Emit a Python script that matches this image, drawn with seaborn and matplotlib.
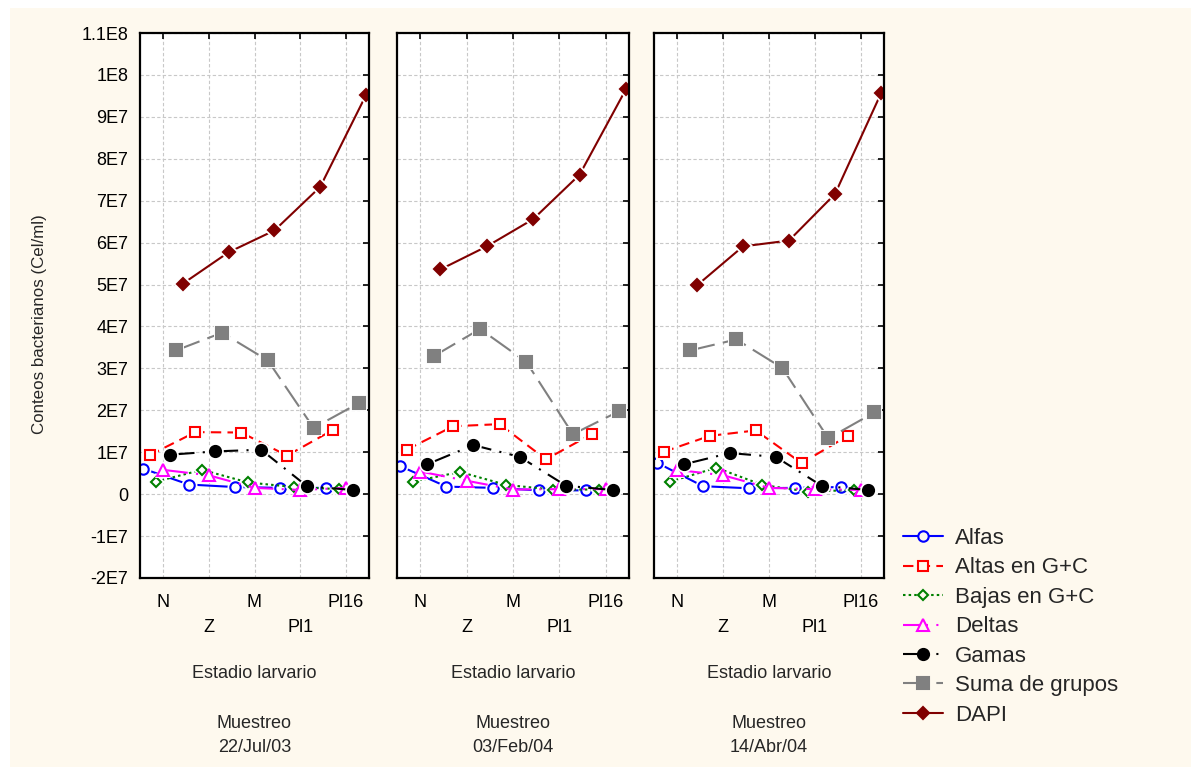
import numpy as np
import pandas as pd
import matplotlib
matplotlib.use("Agg")
import matplotlib.pyplot as plt
import seaborn as sns
from matplotlib.patches import Rectangle
from matplotlib.lines import Line2D

# ---- data -------------------------------------------------------------
estadios = ["N", "Z", "M", "Pl1", "Pl16"]
muestreos = ["22/Jul/03", "03/Feb/04", "14/Abr/04"]
grupos = ["Alfas", "Altas en G+C", "Bajas en G+C", "Deltas", "Gamas",
          "Suma de grupos", "DAPI"]

# counts (cells/ml), one row per sampling date, columns follow `estadios`
alfas = [[6.1e6, 2.3e6, 1.7e6, 1.5e6, 1.5e6],
         [6.7e6, 1.8e6, 1.5e6, 0.9e6, 0.9e6],
         [7.5e6, 1.9e6, 1.4e6, 1.5e6, 1.7e6]]
altas_gc = [[0.93e7, 1.48e7, 1.47e7, 0.92e7, 1.53e7],
            [1.06e7, 1.62e7, 1.67e7, 0.83e7, 1.44e7],
            [1.01e7, 1.39e7, 1.52e7, 0.74e7, 1.39e7]]
bajas_gc = [[3.0e6, 5.8e6, 2.8e6, 1.7e6, 1.2e6],
            [3.0e6, 5.3e6, 2.2e6, 1.1e6, 1.1e6],
            [3.0e6, 6.3e6, 2.2e6, 0.6e6, 1.0e6]]
deltas = [[5.8e6, 4.5e6, 1.5e6, 1.0e6, 1.5e6],
          [5.4e6, 3.2e6, 1.1e6, 1.2e6, 1.2e6],
          [5.8e6, 4.5e6, 1.5e6, 1.2e6, 1.0e6]]
gamas = [[0.94e7, 1.02e7, 1.06e7, 0.19e7, 0.10e7],
         [0.71e7, 1.17e7, 0.89e7, 0.20e7, 0.10e7],
         [0.71e7, 0.98e7, 0.89e7, 0.20e7, 0.10e7]]
suma_grupos = [[3.43e7, 3.85e7, 3.19e7, 1.58e7, 2.18e7],
               [3.29e7, 3.94e7, 3.15e7, 1.43e7, 1.98e7],
               [3.43e7, 3.69e7, 3.01e7, 1.33e7, 1.95e7]]
dapi = [[5.02e7, 5.77e7, 6.29e7, 7.33e7, 9.52e7],
        [5.36e7, 5.91e7, 6.56e7, 7.62e7, 9.66e7],
        [4.98e7, 5.91e7, 6.05e7, 7.16e7, 9.56e7]]

y_ticks = [-2e7, -1e7, 0, 1e7, 2e7, 3e7, 4e7, 5e7, 6e7, 7e7, 8e7, 9e7, 1e8, 1.1e8]
y_ticklabels = ["-2E7", "-1E7", "0", "1E7", "2E7", "3E7", "4E7", "5E7",
                "6E7", "7E7", "8E7", "9E7", "1E8", "1.1E8"]

series = dict(zip(grupos, [alfas, altas_gc, bajas_gc, deltas, gamas,
                           suma_grupos, dapi]))

rows = []
for g, table in series.items():
    for m, vals in zip(muestreos, table):
        for i, (e, v) in enumerate(zip(estadios, vals)):
            rows.append(dict(grupo=g, muestreo=m, estadio=e, idx=i, valor=v))
df = pd.DataFrame(rows)

# ---- styles -----------------------------------------------------------
BG = "#FEF9EE"
estilos = {
    "Alfas":          dict(color="#0000FF", marker="o", hollow=True,  ms=7.5, ls="-"),
    "Altas en G+C":   dict(color="#FF0000", marker="s", hollow=True,  ms=7.5, ls=(0, (5, 3))),
    "Bajas en G+C":   dict(color="#008000", marker="D", hollow=True,  ms=5.5, ls=(0, (1.2, 1.5))),
    "Deltas":         dict(color="#FF00FF", marker="^", hollow=True,  ms=8,   ls=(0, (12, 4, 1, 4))),
    "Gamas":          dict(color="#000000", marker="o", hollow=False, ms=8,   ls=(0, (12, 4, 1, 4))),
    "Suma de grupos": dict(color="#808080", marker="s", hollow=False, ms=8,   ls=(0, (12, 4))),
    "DAPI":           dict(color="#800000", marker="D", hollow=False, ms=6,   ls="-"),
}
offset = 0.145  # horizontal shift between groups inside each stage

sns.set_style("white")
plt.rcParams["font.family"] = ["Liberation Sans", "DejaVu Sans"]

W, H = 1191, 767
fig = plt.figure(figsize=(W / 100, H / 100), dpi=100, facecolor="white")
fig.patches.append(Rectangle((10 / W, 0), 1 - 10 / W, 1 - 8 / H,
                             transform=fig.transFigure, facecolor=BG,
                             edgecolor="none", zorder=-10))

panels_px = [(140, 369), (397, 629), (654, 884)]
top_px, bot_px = 33, 578
axes = []
for (l, r) in panels_px:
    ax = fig.add_axes([l / W, 1 - bot_px / H, (r - l) / W, (bot_px - top_px) / H])
    ax.set_facecolor("white")
    axes.append(ax)

TXT = 13
for k, (ax, m) in enumerate(zip(axes, muestreos)):
    sub_m = df[df.muestreo == m]
    for j, g in enumerate(grupos):
        sub = sub_m[sub_m.grupo == g].copy()
        sub["pos"] = sub["idx"] + (j - 3) * offset
        st = estilos[g]
        z = 2 + j
        # connecting line
        sns.lineplot(data=sub, x="pos", y="valor", ax=ax, errorbar=None,
                     sort=False, color=st["color"], linestyle=st["ls"],
                     linewidth=1.5, legend=False, zorder=z)
        # white halo that leaves a small gap between line and marker
        sns.lineplot(data=sub, x="pos", y="valor", ax=ax, errorbar=None,
                     sort=False, linestyle="none", marker=st["marker"],
                     markersize=st["ms"] + 4, markerfacecolor="white",
                     markeredgecolor="white", markeredgewidth=0,
                     legend=False, zorder=z + 0.3)
        # markers
        sns.lineplot(data=sub, x="pos", y="valor", ax=ax, errorbar=None,
                     sort=False, linestyle="none", marker=st["marker"],
                     markersize=st["ms"],
                     markerfacecolor="white" if st["hollow"] else st["color"],
                     markeredgecolor=st["color"], markeredgewidth=1.5,
                     legend=False, zorder=z + 0.6)
    ax.set_xlim(-0.5, 4.5)
    ax.set_ylim(-2e7, 1.1e8)
    ax.set_yticks(y_ticks)
    ax.set_xticks(range(len(estadios)))
    ax.set_xlabel("")
    ax.set_ylabel("")
    ax.grid(True, color="#C8C8C8", linestyle=(0, (3, 2)), linewidth=0.8)
    ax.set_axisbelow(True)
    for sp in ax.spines.values():
        sp.set_visible(True)
        sp.set_color("black")
        sp.set_linewidth(1.6)
        sp.set_zorder(20)
    ax.tick_params(direction="in", length=4, width=1.2, top=True, right=True,
                   labelsize=TXT, colors="black")
    ax.set_xticklabels(estadios)
    for i, t in enumerate(ax.xaxis.get_major_ticks()):
        t.set_pad(11.5 if i % 2 == 0 else 29.5)
    if k == 0:
        ax.set_yticklabels(y_ticklabels)
        ax.tick_params(axis="y", pad=8.5)
    else:
        ax.set_yticklabels([])

    cx = (panels_px[k][0] + panels_px[k][1]) / 2 / W
    fig.text(cx, 1 - 673 / H, "Estadio larvario", ha="center", va="center", fontsize=TXT)
    fig.text(cx, 1 - 724 / H, "Muestreo", ha="center", va="center", fontsize=TXT)
    fig.text(cx, 1 - 748 / H, m, ha="center", va="center", fontsize=TXT)

fig.text(40 / W, 1 - 324 / H, "Conteos bacterianos (Cel/ml)", rotation=90,
         ha="center", va="center", fontsize=12.2)

handles = []
for g in grupos:
    st = estilos[g]
    handles.append(Line2D([], [], color=st["color"], linestyle=st["ls"],
                          linewidth=1.5, marker=st["marker"],
                          markersize=st["ms"],
                          markerfacecolor=BG if st["hollow"] else st["color"],
                          markeredgecolor=st["color"], markeredgewidth=1.5))
fig.legend(handles, grupos, loc="upper left",
           bbox_to_anchor=(903 / W, 1 - 528 / H), frameon=False,
           fontsize=16, handlelength=1.8, handletextpad=0.54,
           labelspacing=0.38, borderpad=0, borderaxespad=0)

fig.savefig("out.png", dpi=100, facecolor="white")
